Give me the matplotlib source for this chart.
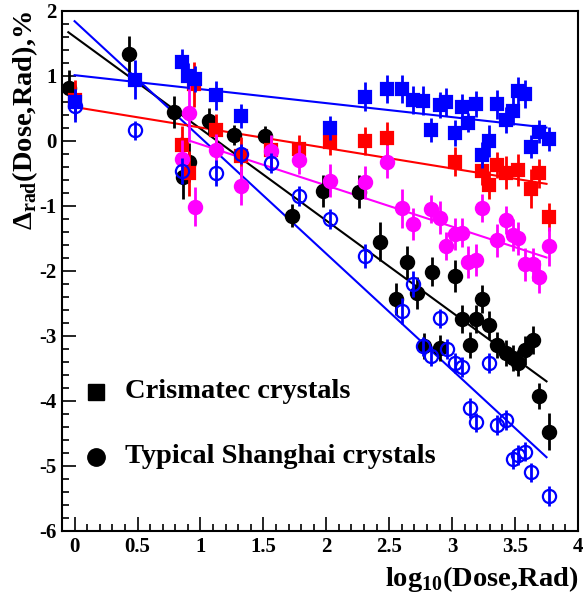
import numpy as np
import matplotlib
matplotlib.use('Agg')
import matplotlib.pyplot as plt
from matplotlib.ticker import MultipleLocator

# Crismatec crystal, blue squares
x_bsq = [0.0, 0.48, 0.85, 0.90, 0.96, 1.12, 1.32, 2.03, 2.31, 2.48, 2.60, 2.69, 2.77, 2.83, 2.90,
         2.95, 3.02, 3.08, 3.13, 3.19, 3.24, 3.29, 3.36, 3.43, 3.48, 3.52, 3.58, 3.63, 3.69, 3.77]
y_bsq = [0.60, 0.94, 1.21, 1.00, 0.95, 0.70, 0.38, 0.20, 0.68, 0.80, 0.80, 0.63, 0.62, 0.17, 0.55,
         0.60, 0.12, 0.52, 0.28, 0.56, -0.22, 0.00, 0.56, 0.32, 0.46, 0.76, 0.72, -0.09, 0.14, 0.03]
e_bsq = [0.20, 0.30, 0.20, 0.20, 0.20, 0.22, 0.18, 0.18, 0.22, 0.22, 0.22, 0.22, 0.22, 0.18, 0.20,
         0.22, 0.20, 0.20, 0.15, 0.20, 0.20, 0.25, 0.22, 0.20, 0.22, 0.22, 0.22, 0.18, 0.18, 0.18]

# Crismatec crystal, red squares
x_rsq = [0.0, 0.85, 0.91, 0.95, 1.12, 1.32, 1.56, 1.78, 2.03, 2.31, 2.48, 3.02, 3.24, 3.29, 3.36,
         3.43, 3.52, 3.63, 3.69, 3.77]
y_rsq = [0.63, -0.07, -0.50, 0.87, 0.17, -0.24, -0.14, -0.13, -0.02, 0.00, 0.04, -0.32, -0.46,
         -0.68, -0.37, -0.49, -0.45, -0.74, -0.50, -1.17]
e_rsq = [0.30, 0.30, 0.35, 0.35, 0.25, 0.30, 0.22, 0.22, 0.20, 0.22, 0.25, 0.22, 0.22, 0.22, 0.20,
         0.25, 0.25, 0.30, 0.22, 0.22]

# Shanghai crystal, magenta circles
x_mag = [0.85, 0.91, 0.96, 1.12, 1.32, 1.56, 1.78, 2.03, 2.31, 2.48, 2.60, 2.69, 2.83, 2.90, 2.95,
         3.02, 3.08, 3.13, 3.19, 3.24, 3.36, 3.43, 3.48, 3.52, 3.58, 3.64, 3.69, 3.77]
y_mag = [-0.28, 0.43, -1.01, -0.14, -0.69, -0.16, -0.29, -0.61, -0.64, -0.32, -1.04, -1.28, -1.05,
         -1.18, -1.62, -1.43, -1.41, -1.86, -1.83, -1.03, -1.53, -1.22, -1.45, -1.50, -1.90, -1.90,
         -2.09, -1.62]
e_mag = [0.30, 0.45, 0.30, 0.25, 0.30, 0.25, 0.22, 0.25, 0.25, 0.25, 0.30, 0.25, 0.22, 0.25, 0.22,
         0.25, 0.22, 0.25, 0.25, 0.22, 0.25, 0.22, 0.25, 0.25, 0.25, 0.25, 0.25, 0.30]

# Shanghai crystal, black circles
x_blk = [-0.045, 0.43, 0.79, 0.86, 0.91, 1.07, 1.27, 1.51, 1.73, 1.97, 2.26, 2.43, 2.55, 2.64,
         2.72, 2.78, 2.84, 2.90, 3.02, 3.08, 3.14, 3.19, 3.24, 3.29, 3.36, 3.43, 3.48, 3.52, 3.58,
         3.64, 3.69, 3.77]
y_blk = [0.81, 1.34, 0.44, -0.55, -0.33, 0.31, 0.09, 0.08, -1.15, -0.77, -0.78, -1.55, -2.43, -1.87,
         -2.34, -3.16, -2.01, -3.19, -2.08, -2.74, -3.14, -2.74, -2.43, -2.83, -3.14, -3.26, -3.34,
         -3.41, -3.22, -3.06, -3.92, -4.47]
e_blk = [0.28, 0.28, 0.25, 0.35, 0.30, 0.20, 0.15, 0.15, 0.18, 0.25, 0.25, 0.30, 0.25, 0.25, 0.25,
         0.20, 0.22, 0.20, 0.25, 0.22, 0.20, 0.22, 0.22, 0.22, 0.20, 0.20, 0.20, 0.20, 0.22, 0.22,
         0.20, 0.28]

# Shanghai crystal, blue open circles
x_bop = [0.0, 0.48, 0.85, 1.12, 1.32, 1.56, 1.78, 2.03, 2.31, 2.60, 2.69, 2.77, 2.83, 2.90, 2.96,
         3.02, 3.08, 3.14, 3.19, 3.29, 3.36, 3.43, 3.48, 3.52, 3.58, 3.63, 3.77]
y_bop = [0.54, 0.16, -0.46, -0.49, -0.20, -0.34, -0.85, -1.20, -1.77, -2.62, -2.20, -3.16, -3.31,
         -2.73, -3.20, -3.42, -3.48, -4.11, -4.33, -3.42, -4.37, -4.29, -4.90, -4.83, -4.78, -5.10,
         -5.46]
e_bop = [0.25, 0.15, 0.20, 0.20, 0.15, 0.15, 0.15, 0.15, 0.18, 0.20, 0.20, 0.15, 0.15, 0.15, 0.15,
         0.15, 0.15, 0.15, 0.15, 0.15, 0.15, 0.15, 0.15, 0.15, 0.15, 0.15, 0.15]

# fitted lines: (x start, x end, intercept, slope)
fit_bsq = (0.0, 3.75, 1.01, -0.215)
fit_rsq = (0.0, 3.75, 0.52, -0.315)
fit_mag = (0.85, 3.75, 0.58, -0.633)
fit_blk = (-0.05, 3.75, 1.60, -1.413)
fit_bop = (0.0, 3.75, 1.84, -1.788)

legend_labels = ['Crismatec crystals', 'Typical Shanghai crystals']

plt.rcParams['font.family'] = ['Liberation Serif', 'DejaVu Serif']
plt.rcParams['font.weight'] = 'bold'
plt.rcParams['mathtext.fontset'] = 'custom'
plt.rcParams['mathtext.rm'] = 'Liberation Serif:bold'
plt.rcParams['mathtext.bf'] = 'Liberation Serif:bold'

fig = plt.figure(figsize=(5.85, 6.0), dpi=100)
ax = fig.add_axes([0.106, 0.115, 0.882, 0.867])

BLUE = '#0000ff'
RED = '#ff0000'
MAG = '#ff00ff'


def draw_fit(fit, color):
    x0, x1, b, k = fit
    xs = np.array([x0, x1])
    ax.plot(xs, b + k * xs, color=color, lw=1.5, zorder=2)


def draw_points(x, y, e, color, marker, filled=True, z=3):
    ax.errorbar(x, y, yerr=e, fmt='none', ecolor=color, elinewidth=2, capsize=0, zorder=z)
    ax.plot(x, y, linestyle='none', marker=marker, ms=9 if marker == 's' else 9.5,
            mfc=color if filled else 'none', mec=color, mew=1.6, zorder=z + 0.5)


draw_fit(fit_blk, 'black')
draw_fit(fit_bop, BLUE)
draw_fit(fit_bsq, BLUE)
draw_fit(fit_rsq, RED)
draw_fit(fit_mag, MAG)

draw_points(x_blk, y_blk, e_blk, 'black', 'o', z=3)
draw_points(x_rsq, y_rsq, e_rsq, RED, 's', z=4)
draw_points(x_mag, y_mag, e_mag, MAG, 'o', z=5)
draw_points(x_bsq, y_bsq, e_bsq, BLUE, 's', z=6)
draw_points(x_bop, y_bop, e_bop, BLUE, 'o', filled=False, z=7)

ax.set_xlim(-0.1, 4.0)
ax.set_ylim(-6, 2)
ax.xaxis.set_major_locator(MultipleLocator(0.5))
ax.xaxis.set_minor_locator(MultipleLocator(0.1))
ax.yaxis.set_major_locator(MultipleLocator(1))
ax.yaxis.set_minor_locator(MultipleLocator(0.2))
ax.tick_params(which='both', direction='in', top=False, right=False, width=1.2)
ax.tick_params(which='major', length=10, labelsize=15, pad=4)
ax.tick_params(which='minor', length=5)
ax.xaxis.set_major_formatter(plt.FuncFormatter(lambda v, p: f'{v:g}'))
ax.yaxis.set_major_formatter(plt.FuncFormatter(lambda v, p: f'{v:g}'))
for lab in ax.get_xticklabels() + ax.get_yticklabels():
    lab.set_fontweight('bold')
for s in ax.spines.values():
    s.set_linewidth(1.5)

ax.set_xlabel(r'log$_{10}$(Dose,Rad)', fontsize=20.5, fontweight='bold', loc='right', labelpad=5)
ax.set_ylabel(r'$\Delta_{\rm rad}$(Dose,Rad),%', fontsize=20.5, fontweight='bold', loc='top',
              labelpad=-1)

# legend markers and text
ax.plot([0.17], [-3.86], marker='s', ms=12, color='black', linestyle='none')
ax.plot([0.17], [-4.86], marker='o', ms=12.5, color='black', linestyle='none')
ax.text(0.40, -3.86, legend_labels[0], fontsize=20.5, fontweight='bold', va='center')
ax.text(0.40, -4.86, legend_labels[1], fontsize=20.5, fontweight='bold', va='center')

fig.savefig('out.png', dpi=100)
